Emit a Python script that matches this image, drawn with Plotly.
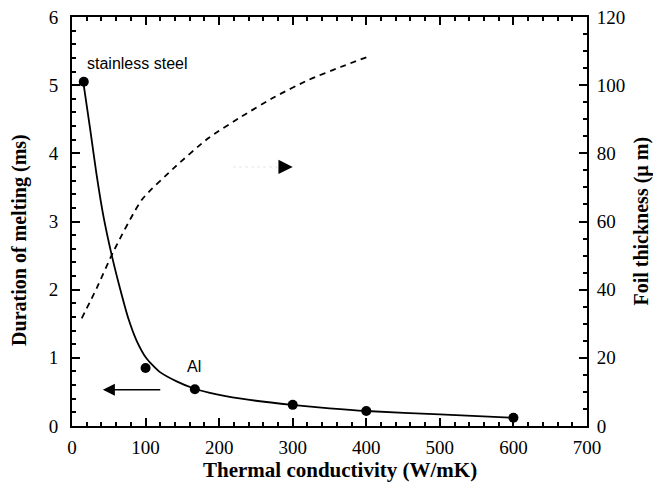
import plotly.graph_objects as go

# Measured points (duration of melting, ms)
pt_k = [16, 100, 167, 300, 400, 600]
pt_dur = [5.05, 0.85, 0.54, 0.31, 0.22, 0.12]

# Solid fitted curve (duration of melting, ms)
curve_k = [15.4, 24.5, 33.5, 42.5, 53.9, 65.2, 76.5, 87.9, 101.4, 119.6, 142.2, 165.8, 187.5, 230, 299, 350, 400, 500, 600]
curve_dur = [5.04, 4.37, 3.68, 3.09, 2.51, 2.02, 1.58, 1.25, 0.99, 0.79, 0.655, 0.55, 0.485, 0.40, 0.31, 0.26, 0.22, 0.17, 0.12]

# Dashed curve (foil thickness, µm)
thick_k = [13.2, 33.5, 57, 95, 139, 185, 230.5, 276, 321, 366, 403]
thick_um = [31.6, 40.4, 51.5, 66.4, 75.8, 84.4, 90.8, 96.6, 101.5, 105.4, 108.4]

# Labels
lbl_steel = "stainless steel"
lbl_al = "Al"

serif = "Liberation Serif"
sans = "Liberation Sans"

fig = go.Figure()
fig.add_trace(go.Scatter(x=curve_k, y=curve_dur, mode="lines",
                         line=dict(color="black", width=1.8, shape="spline", smoothing=0.6),
                         showlegend=False, hoverinfo="skip"))
fig.add_trace(go.Scatter(x=pt_k, y=pt_dur, mode="markers",
                         marker=dict(color="black", size=10),
                         showlegend=False))
fig.add_trace(go.Scatter(x=thick_k, y=thick_um, mode="lines", yaxis="y2",
                         line=dict(color="black", width=1.8, dash="6px,5px", shape="spline", smoothing=0.6),
                         showlegend=False))

TC = "black"
axis_common = dict(showline=True, linecolor="black", linewidth=2, ticks="inside",
                   tickcolor=TC, tickwidth=1.6, ticklen=8, showgrid=False, zeroline=False,
                   automargin=False, ticklabeloverflow="allow",
                   tickfont=dict(family=serif, size=19, color="black"))
minor_common = dict(ticks="inside", ticklen=4, tickcolor=TC, tickwidth=1.6, showgrid=False)

# The page body has an 8px margin, so the figure is sized to fit the window
fig.update_layout(
    width=653, height=477,
    margin=dict(l=64, r=74, t=9, b=59, autoexpand=False),
    paper_bgcolor="white", plot_bgcolor="white",
    xaxis=dict(range=[0, 700], dtick=100, mirror="ticks", ticklabelstandoff=3,
               minor=dict(dtick=20, **minor_common), **axis_common),
    yaxis=dict(range=[0, 6], dtick=1, ticklabelstandoff=8,
               minor=dict(dtick=0.2, **minor_common), **axis_common),
    yaxis2=dict(range=[0, 120], dtick=20, overlaying="y", side="right", ticklabelstandoff=4,
                minor=dict(dtick=5, **minor_common), **axis_common),
)

title_font = dict(family=serif, size=20, color="black")
fig.add_annotation(text="<b>Thermal conductivity (W/mK)</b>", xref="paper", yref="paper",
                   x=0.52, y=-0.107, showarrow=False, font=dict(family=serif, size=21, color="black"),
                   xanchor="center", yanchor="middle")
fig.add_annotation(text="<b>Duration of melting (ms)</b>", xref="paper", yref="paper",
                   x=-0.101, y=0.455, showarrow=False, font=title_font, textangle=-90,
                   xanchor="center", yanchor="middle")
fig.add_annotation(text="<b>Foil thickness (µ m)</b>", xref="paper", yref="paper",
                   x=1.105, y=0.5, showarrow=False, font=title_font, textangle=-90,
                   xanchor="center", yanchor="middle")

lbl_font = dict(family=sans, size=16, color="black")
fig.add_annotation(text=lbl_steel, x=17.7, y=5.32, xref="x", yref="y", showarrow=False,
                   font=lbl_font, xanchor="left", yanchor="middle")
fig.add_annotation(text=lbl_al, x=166, y=0.87, xref="x", yref="y", showarrow=False,
                   font=lbl_font, xanchor="center", yanchor="middle")

# Left-pointing arrow (toward left axis)
fig.add_annotation(x=42, y=0.53, ax=122, ay=0.53, xref="x", yref="y", axref="x", ayref="y",
                   showarrow=True, arrowhead=2, arrowsize=1.6, arrowwidth=1.5, arrowcolor="black", text="")
# Right-pointing arrow (toward right axis) with faint shaft
fig.add_shape(type="line", x0=219, x1=280, y0=3.8, y1=3.8, xref="x", yref="y",
              line=dict(color="#e6e6e6", width=1, dash="dot"))
fig.add_annotation(x=300, y=3.8, ax=281, ay=3.8, xref="x", yref="y", axref="x", ayref="y",
                   showarrow=True, arrowhead=2, arrowsize=1.9, arrowwidth=1.5, arrowcolor="black", text="")

fig.write_html("out.html")
